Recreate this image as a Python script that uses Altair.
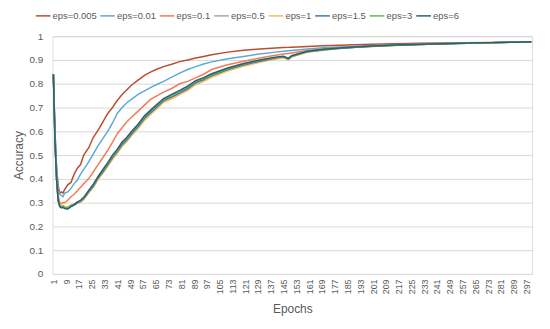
import altair as alt
import pandas as pd

epochs = [1, 2, 3, 4, 5, 6, 7, 8, 10, 12, 14, 16, 18, 20, 23, 26, 29, 32, 35, 38,
          41, 44, 47, 50, 54, 58, 62, 66, 70, 75, 80, 85, 90, 95, 100, 110, 120, 130,
          140, 145, 148, 150, 160, 170, 180, 190, 200, 215, 230, 245, 260, 275, 290, 300]

eps_0005 = [0.84, 0.60, 0.45, 0.37, 0.34, 0.345, 0.34, 0.355, 0.375, 0.385, 0.42, 0.445, 0.46, 0.50,
            0.53, 0.575, 0.605, 0.64, 0.675, 0.70, 0.73, 0.755, 0.775, 0.795, 0.815, 0.835, 0.85, 0.862,
            0.872, 0.882, 0.893, 0.90, 0.908, 0.915, 0.922, 0.933, 0.941, 0.946, 0.95, 0.952, 0.953, 0.954,
            0.957, 0.96, 0.962, 0.964, 0.966, 0.968, 0.97, 0.971, 0.973, 0.974, 0.976, 0.977]
eps_001 = [0.84, 0.60, 0.44, 0.36, 0.335, 0.33, 0.325, 0.34, 0.345, 0.36, 0.38, 0.395, 0.42, 0.44,
           0.47, 0.505, 0.54, 0.57, 0.60, 0.635, 0.675, 0.70, 0.72, 0.735, 0.755, 0.77, 0.785, 0.798,
           0.81, 0.828, 0.845, 0.86, 0.872, 0.883, 0.892, 0.905, 0.915, 0.925, 0.933, 0.937, 0.939, 0.94,
           0.946, 0.951, 0.955, 0.958, 0.961, 0.964, 0.967, 0.969, 0.971, 0.973, 0.975, 0.976]
eps_01 = [0.84, 0.58, 0.42, 0.33, 0.30, 0.295, 0.30, 0.30, 0.31, 0.325, 0.335, 0.35, 0.365, 0.38,
          0.40, 0.43, 0.46, 0.49, 0.52, 0.555, 0.59, 0.615, 0.64, 0.66, 0.685, 0.71, 0.735, 0.75,
          0.765, 0.78, 0.80, 0.81, 0.825, 0.84, 0.86, 0.88, 0.895, 0.908, 0.92, 0.925, 0.927, 0.929,
          0.94, 0.946, 0.951, 0.955, 0.959, 0.963, 0.966, 0.969, 0.971, 0.973, 0.975, 0.976]
eps_05 = [0.84, 0.56, 0.40, 0.31, 0.288, 0.284, 0.286, 0.282, 0.28, 0.287, 0.29, 0.298, 0.303, 0.315,
          0.342, 0.367, 0.40, 0.427, 0.456, 0.486, 0.512, 0.54, 0.561, 0.586, 0.616, 0.65, 0.676, 0.70,
          0.726, 0.741, 0.758, 0.776, 0.80, 0.814, 0.831, 0.857, 0.877, 0.893, 0.906, 0.911, 0.903, 0.913,
          0.934, 0.942, 0.948, 0.953, 0.957, 0.962, 0.965, 0.968, 0.97, 0.972, 0.975, 0.976]
eps_1 = [0.84, 0.56, 0.40, 0.31, 0.29, 0.286, 0.288, 0.284, 0.282, 0.289, 0.292, 0.297, 0.302, 0.313,
         0.34, 0.364, 0.397, 0.424, 0.452, 0.482, 0.508, 0.536, 0.557, 0.582, 0.612, 0.646, 0.672, 0.696,
         0.722, 0.737, 0.754, 0.772, 0.796, 0.81, 0.827, 0.854, 0.874, 0.89, 0.904, 0.909, 0.902, 0.912,
         0.933, 0.941, 0.948, 0.953, 0.957, 0.961, 0.965, 0.968, 0.97, 0.972, 0.975, 0.976]
eps_15 = [0.84, 0.56, 0.40, 0.31, 0.285, 0.28, 0.283, 0.278, 0.275, 0.285, 0.29, 0.30, 0.305, 0.318,
          0.345, 0.37, 0.405, 0.43, 0.46, 0.49, 0.515, 0.545, 0.565, 0.59, 0.62, 0.655, 0.68, 0.705,
          0.73, 0.745, 0.762, 0.78, 0.805, 0.818, 0.835, 0.86, 0.88, 0.895, 0.908, 0.913, 0.904, 0.915,
          0.935, 0.943, 0.949, 0.954, 0.958, 0.962, 0.965, 0.968, 0.97, 0.972, 0.975, 0.976]
eps_3 = [0.84, 0.56, 0.40, 0.31, 0.286, 0.282, 0.285, 0.28, 0.278, 0.288, 0.293, 0.303, 0.308, 0.32,
         0.348, 0.375, 0.408, 0.436, 0.464, 0.495, 0.52, 0.552, 0.57, 0.596, 0.626, 0.66, 0.686, 0.71,
         0.735, 0.75, 0.768, 0.786, 0.81, 0.822, 0.838, 0.863, 0.883, 0.898, 0.91, 0.915, 0.906, 0.917,
         0.936, 0.944, 0.95, 0.954, 0.958, 0.962, 0.965, 0.968, 0.97, 0.972, 0.975, 0.976]
eps_6 = [0.84, 0.56, 0.40, 0.31, 0.283, 0.278, 0.28, 0.275, 0.273, 0.283, 0.292, 0.302, 0.31, 0.322,
         0.35, 0.378, 0.41, 0.44, 0.468, 0.50, 0.525, 0.555, 0.575, 0.60, 0.63, 0.665, 0.69, 0.715,
         0.738, 0.755, 0.772, 0.79, 0.813, 0.826, 0.842, 0.866, 0.885, 0.90, 0.912, 0.916, 0.907, 0.918,
         0.937, 0.945, 0.95, 0.955, 0.959, 0.963, 0.966, 0.968, 0.971, 0.973, 0.975, 0.977]

series_names = ["eps=0.005", "eps=0.01", "eps=0.1", "eps=0.5", "eps=1", "eps=1.5", "eps=3", "eps=6"]
series_values = [eps_0005, eps_001, eps_01, eps_05, eps_1, eps_15, eps_3, eps_6]
series_colors = ["#BE4B2E", "#5DA9D6", "#F37B59", "#A5A5A5", "#F9B850", "#3A78B5", "#6DAF4F", "#2A5F78"]

x_ticks = [1, 9, 17, 25, 33, 41, 49, 57, 65, 73, 81, 89, 97, 105, 113, 121, 129, 137, 145,
           153, 161, 169, 177, 185, 193, 201, 209, 217, 225, 233, 241, 249, 257, 265, 273,
           281, 289, 297]
y_ticks = [0, 0.1, 0.2, 0.3, 0.4, 0.5, 0.6, 0.7, 0.8, 0.9, 1]

rows = []
for i, (name, vals) in enumerate(zip(series_names, series_values)):
    for e, v in zip(epochs, vals):
        rows.append({"Epoch": e, "Accuracy": v, "Series": name, "order": i})
df = pd.DataFrame(rows)

FONT = "Liberation Sans"
TXT = "#595959"

chart = alt.Chart(df).mark_line(strokeWidth=1.5).encode(
    x=alt.X("Epoch:Q",
            scale=alt.Scale(domain=[0.5, 300.5], nice=False, zero=False),
            axis=alt.Axis(values=x_ticks, labelAngle=270, labelAlign="right", labelBaseline="middle",
                          grid=False, ticks=False, domain=True, domainColor="#D9D9D9",
                          labelFontSize=9, labelColor=TXT, labelPadding=5, labelFont=FONT,
                          title="Epochs", titleFontSize=12, titleColor=TXT, titleFont=FONT,
                          titleFontWeight="normal", titlePadding=10, labelOverlap=False)),
    y=alt.Y("Accuracy:Q",
            scale=alt.Scale(domain=[0, 1], nice=False),
            axis=alt.Axis(values=y_ticks, format=".1~f", grid=True, gridColor="#D9D9D9",
                          ticks=False, domain=False, labelFontSize=10, labelColor=TXT,
                          labelPadding=10, labelFont=FONT,
                          title="Accuracy", titleFontSize=12, titleColor=TXT, titleFont=FONT,
                          titleFontWeight="normal", titlePadding=3)),
    color=alt.Color("Series:N",
                    scale=alt.Scale(domain=series_names, range=series_colors),
                    legend=alt.Legend(title=None, orient="none", legendX=-18, legendY=-29,
                                      direction="horizontal", columns=8, symbolType="stroke",
                                      symbolSize=220, symbolStrokeWidth=1.5, labelFontSize=9.5,
                                      labelColor=TXT, labelFont=FONT, labelOffset=1,
                                      columnPadding=0)),
    order=alt.Order("order:Q"),
    detail="Series:N",
).properties(
    width=484, height=240,
    autosize=alt.AutoSizeParams(type="none"),
    padding={"left": 45, "top": 27, "right": 10, "bottom": 46},
).configure_view(stroke=None).configure(background="white")

chart.save("out.html", embed_options={"renderer": "svg", "actions": False})
